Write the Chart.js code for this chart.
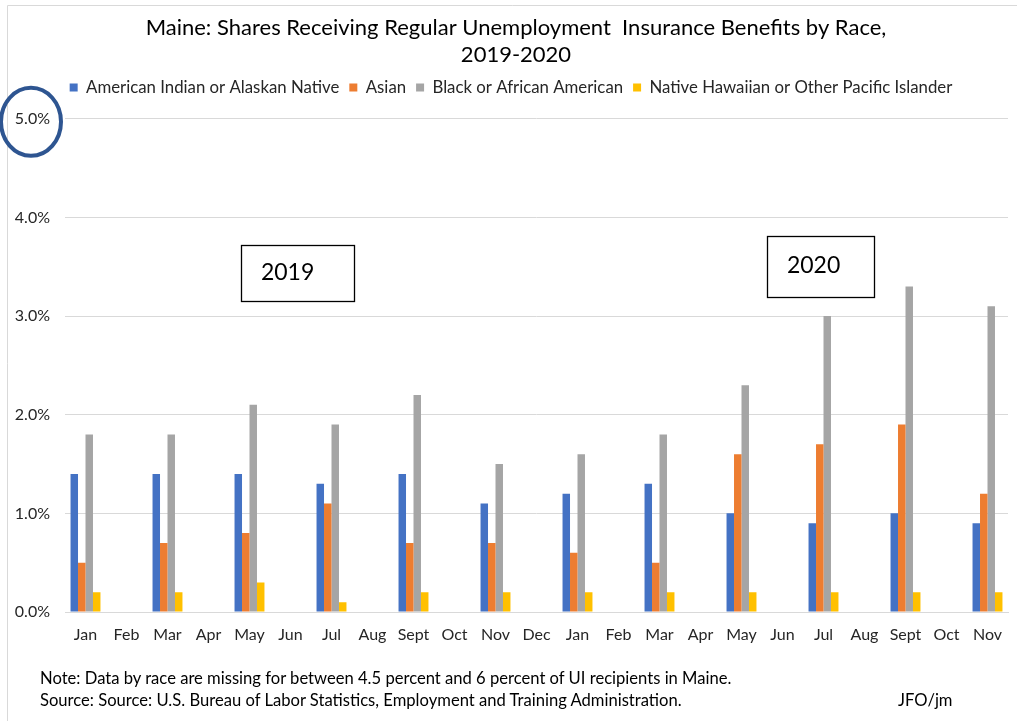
<!DOCTYPE html>
<html>
<head>
<meta charset="utf-8">
<script src="https://cdn.jsdelivr.net/npm/chart.js@4.4.1/dist/chart.umd.min.js"></script>
<style>
  html,body{margin:0;padding:0;background:#fff;}
  #wrap{position:relative;width:1017px;height:721px;overflow:hidden;}
  canvas{position:absolute;left:0;top:0;}
  .note{position:absolute;font-family:Lato, "Liberation Sans", sans-serif;font-size:16.6px;color:#000;white-space:pre;}
</style>
</head>
<body>
<div id="wrap">
  <canvas id="c" width="1017" height="721"></canvas>
  <div class="note" style="left:40px;top:668px;">Note: Data by race are missing for between 4.5 percent and 6 percent of UI recipients in Maine.</div>
  <div class="note" style="left:40px;top:690px;">Source: Source: U.S. Bureau of Labor Statistics, Employment and Training Administration.</div>
  <div class="note" style="left:898px;top:690px;">JFO/jm</div>
</div>
<script>
const months = ['Jan','Feb','Mar','Apr','May','Jun','Jul','Aug','Sept','Oct','Nov','Dec',
                'Jan','Feb','Mar','Apr','May','Jun','Jul','Aug','Sept','Oct','Nov'];
const seriesNames = ['American Indian or Alaskan Native','Asian','Black or African American','Native Hawaiian or Other Pacific Islander'];
const aian     = [1.4,null,1.4,null,1.4,null,1.3,null,1.4,null,1.1,null,1.2,null,1.3,null,1.0,null,0.9,null,1.0,null,0.9];
const asian    = [0.5,null,0.7,null,0.8,null,1.1,null,0.7,null,0.7,null,0.6,null,0.5,null,1.6,null,1.7,null,1.9,null,1.2];
const black    = [1.8,null,1.8,null,2.1,null,1.9,null,2.2,null,1.5,null,1.6,null,1.8,null,2.3,null,3.0,null,3.3,null,3.1];
const nhopi    = [0.2,null,0.2,null,0.3,null,0.1,null,0.2,null,0.2,null,0.2,null,0.2,null,0.2,null,0.2,null,0.2,null,0.2];
const yTicks   = [0,1,2,3,4,5];
const colors   = ['#4472C4','#ED7D31','#A5A5A5','#FFC000'];

const FONT = 'Lato, "Liberation Sans", sans-serif';

const boxes = [
  {text:'2019', x0:3.79, x1:6.55, y0:3.72, y1:3.15},
  {text:'2020', x0:16.62, x1:19.23, y0:3.81, y1:3.19}
];

function shiftDraw(box, dx){
  if (!box || box._shifted) return;
  const orig = box.draw;
  box.draw = function(){
    const ctx = this.ctx;
    ctx.save(); ctx.translate(dx, 0);
    orig.apply(this, arguments);
    ctx.restore();
  };
  box._shifted = true;
}

const decor = {
  id:'decor',
  afterInit(chart){
    const lg = chart.legend;
    if (lg && !lg._patched){
      const orig = lg.fit;
      lg.fit = function(){ orig.call(this); this.height += 13; };
      lg._patched = true;
    }
    shiftDraw(chart.titleBlock, 12);
    shiftDraw(chart.legend, 7);
  },
  beforeDraw(chart){
    const ctx = chart.ctx;
    ctx.save();
    ctx.strokeStyle = '#d9d9d9';
    ctx.lineWidth = 1;
    ctx.beginPath();
    ctx.moveTo(7.5, 721); ctx.lineTo(7.5, 5.5); ctx.lineTo(1017, 5.5);
    ctx.stroke();
    ctx.restore();
  },
  afterDraw(chart){
    const ctx = chart.ctx, xs = chart.scales.x, ys = chart.scales.y;
    const p0 = xs.getPixelForValue(0), step = xs.getPixelForValue(1) - p0;
    ctx.save();
    boxes.forEach(b=>{
      const l = p0 + b.x0 * step;
      const r = p0 + b.x1 * step;
      const t = ys.getPixelForValue(b.y0), bt = ys.getPixelForValue(b.y1);
      ctx.fillStyle='#fff';
      ctx.fillRect(l,t,r-l,bt-t);
      ctx.strokeStyle='#000'; ctx.lineWidth=1.3;
      ctx.strokeRect(Math.round(l)+0.5,Math.round(t)+0.5,Math.round(r-l),Math.round(bt-t));
      ctx.fillStyle='#000';
      ctx.font = '23px ' + FONT;
      ctx.textBaseline='middle'; ctx.textAlign='left';
      ctx.fillText(b.text, l+20, (t+bt)/2 - 1);
    });
    const cy = ys.getPixelForValue(5) + 3;
    ctx.strokeStyle = '#2E5591';
    ctx.lineWidth = 4;
    ctx.beginPath();
    ctx.ellipse(31, cy, 30, 34, 0, 0, Math.PI*2);
    ctx.stroke();
    ctx.restore();
  }
};

new Chart(document.getElementById('c'), {
  type:'bar',
  data:{
    labels: months,
    datasets: [aian, asian, black, nhopi].map((d,i)=>({
      label: seriesNames[i], data: d, backgroundColor: colors[i],
      categoryPercentage: 0.73, barPercentage: 1.0
    }))
  },
  plugins:[decor],
  options:{
    responsive:false,
    animation:false,
    layout:{padding:{left:0,right:9,top:0,bottom:0}},
    plugins:{
      title:{
        display:true,
        text:['Maine: Shares Receiving Regular Unemployment  Insurance Benefits by Race,','2019-2020'],
        font:{family:FONT,size:22,weight:'normal',lineHeight:1.25},
        color:'#000',
        padding:{top:14,bottom:0}
      },
      legend:{
        display:true,
        labels:{boxWidth:8,boxHeight:8,padding:10,color:'#262626',font:{family:FONT,size:16.8}}
      },
      tooltip:{enabled:false}
    },
    scales:{
      x:{
        grid:{display:false, drawTicks:false},
        border:{display:true,color:'#d9d9d9'},
        ticks:{color:'#262626',font:{family:FONT,size:16},autoSkip:false,maxRotation:0,padding:13},
        afterFit(s){ s.height = 109; }
      },
      y:{
        min:0,max:5,
        afterBuildTicks(s){ s.ticks = yTicks.map(v=>({value:v})); },
        grid:{color:'#d9d9d9',drawTicks:false},
        border:{display:false},
        ticks:{color:'#262626',font:{family:FONT,size:16},padding:15,callback:v=>v.toFixed(1)+'%'},
        afterFit(s){ s.width = 65; }
      }
    }
  }
});
</script>
</body>
</html>
